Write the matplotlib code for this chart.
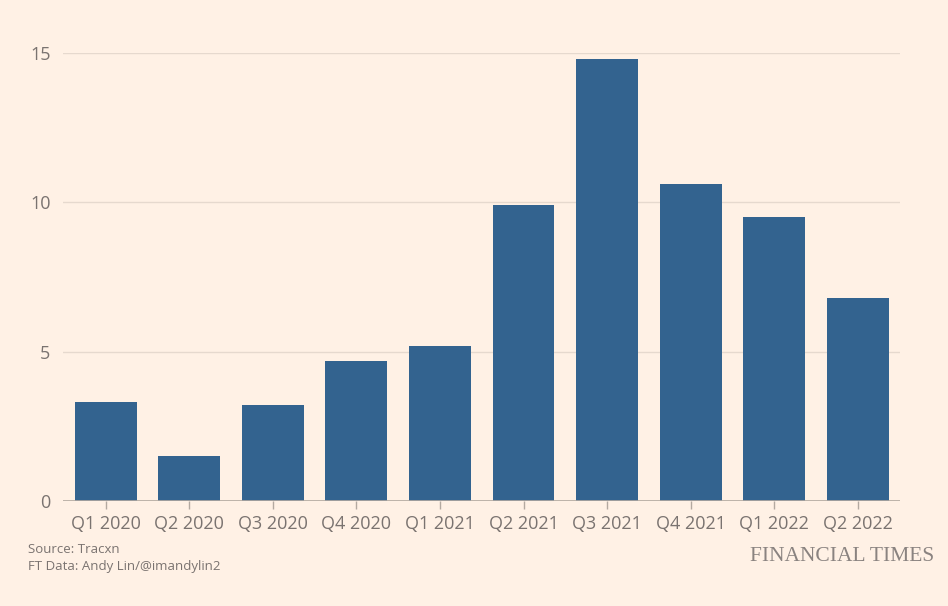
import matplotlib
matplotlib.use("Agg")
import matplotlib.pyplot as plt
import numpy as np

quarters = ["Q1 2020", "Q2 2020", "Q3 2020", "Q4 2020", "Q1 2021",
            "Q2 2021", "Q3 2021", "Q4 2021", "Q1 2022", "Q2 2022"]
values = [3.3, 1.5, 3.2, 4.7, 5.2, 9.9, 14.8, 10.6, 9.5, 6.8]
yticks = [0, 5, 10, 15]

bg = "#fff1e5"
bar_color = "#33638f"
text_color = "#7a7370"

plt.rcParams['font.family'] = ['Open Sans', 'DejaVu Sans']

fig = plt.figure(figsize=(9.48, 6.06), dpi=100)
fig.patch.set_facecolor(bg)
ax = fig.add_axes([0.0665, 0.1733, 0.8825, 0.7392])
ax.set_facecolor(bg)

x = np.arange(len(quarters))
ax.bar(x, values, width=0.74, color=bar_color, zorder=3)

ax.set_xlim(-0.51, 9.5)
ax.set_ylim(0, 15)
ax.set_yticks(yticks)
ax.set_xticks(x)
ax.set_xticklabels(quarters)

# light horizontal grid, darker baseline
ax.grid(axis='y', color='#e6d9ce', linewidth=1, zorder=0)
ax.axhline(0, color='#b3a9a0', linewidth=1.2, zorder=4)
for s in ax.spines.values():
    s.set_visible(False)

ax.tick_params(axis='y', length=0, pad=9, labelsize=13, labelcolor=text_color)
ax.tick_params(axis='x', length=6, width=1, color='#b3a9a0', pad=4,
               labelsize=13, labelcolor=text_color)

fig.text(0.03, 0.088, "Source: Tracxn", fontsize=9.5, color=text_color)
fig.text(0.03, 0.060, "FT Data: Andy Lin/@imandylin2", fontsize=9.5, color=text_color)
fig.text(0.986, 0.074, "FINANCIAL TIMES", fontsize=15.5, color='#8a8380',
         ha='right', family='Liberation Serif')

fig.savefig("out.png", dpi=100, facecolor=bg)
